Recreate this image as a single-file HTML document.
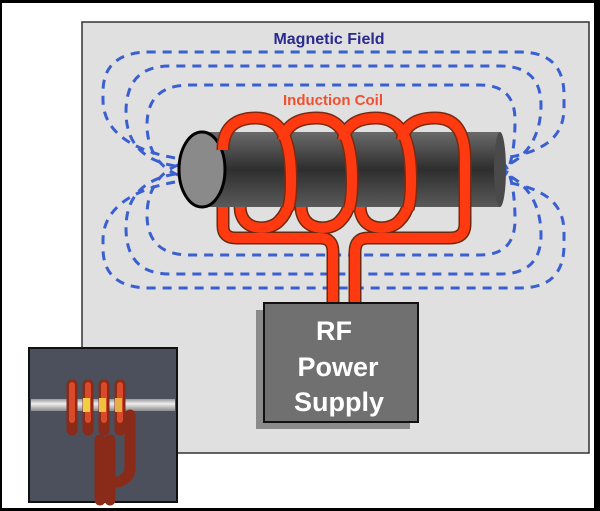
<!DOCTYPE html>
<html><head><style>
html,body{margin:0;padding:0;background:#000;}
svg{display:block;}
</style></head><body>
<svg width="600" height="511" viewBox="0 0 600 511" xmlns="http://www.w3.org/2000/svg">
<defs>
<linearGradient id="cyl" x1="0" y1="0" x2="0" y2="1">
<stop offset="0" stop-color="#6a6a6a"/><stop offset="0.5" stop-color="#2e2e2e"/><stop offset="1" stop-color="#5a5a5a"/>
</linearGradient>
<linearGradient id="rod" x1="0" y1="0" x2="0" y2="1">
<stop offset="0" stop-color="#9a9a9a"/><stop offset="0.4" stop-color="#eeeeee"/><stop offset="1" stop-color="#8a8a8a"/>
</linearGradient>
<g id="back" fill="none">
<path d="M291,180 C291,200 288,212 280,220 C272,230 252,231 244,220 C240,214 240,210 240,200"/>
<path d="M352,180 C352,200 349,212 341,220 C333,230 313,231 305,220 C301,214 301,210 301,200"/>
<path d="M411,180 C411,200 408,212 400,220 C392,230 372,231 364,220 C360,214 360,210 360,200"/>
<path d="M223,150 L223,226 Q223,238 236,238 L320,238 Q333,238 333,252 L333,303"/>
<path d="M465,150 L465,224 Q465,238 450,238 L368,238 Q355,238 355,252 L355,303"/>
</g>
<g id="front" fill="none">
<path d="M223,150 C223,128 235,118 256,118 C282,118 291,140 291,180 C291,195 290,203 288,209"/>
<path d="M283,140 C286,124 300,118 317,118 C343,118 352,140 352,180 C352,195 351,203 349,209"/>
<path d="M343,140 C346,124 360,118 376,118 C402,118 411,140 411,180 C411,195 410,203 408,209"/>
<path d="M402,140 C405,124 418,118 435,118 C458,118 465,135 465,160 L465,215"/>
</g>
</defs>
<rect x="2" y="3" width="592" height="505" fill="#fff"/>
<rect x="82" y="22" width="507" height="431" fill="#e0e0e0" stroke="#333" stroke-width="1.5"/>
<g fill="none" stroke="#3a5fd0" stroke-width="3" stroke-dasharray="9 7">
<g id="top">
<path d="M175,158 C130,150 103,130 103,100 L103,92 Q103,52 150,52 L520,52 Q564,52 564,95 L564,108 C564,140 540,152 505,158"/>
<path d="M175,166 C140,160 126,140 126,112 Q126,66 170,66 L500,66 Q541,66 541,105 C541,138 525,158 505,166"/>
<path d="M178,175 C160,168 147,150 147,125 Q147,85 190,85 L480,85 Q515,85 515,120 C515,150 510,168 505,175"/>
</g>
<use href="#top" transform="translate(0,340) scale(1,-1)"/>
</g>
<text x="329" y="44" font-family="Liberation Sans, sans-serif" font-weight="bold" font-size="16" fill="#2a2a90" text-anchor="middle">Magnetic Field</text>
<text x="333" y="105" font-family="Liberation Sans, sans-serif" font-weight="bold" font-size="15" fill="#f05030" text-anchor="middle">Induction Coil</text>
<use href="#back" stroke="#6a2a10" stroke-width="13" stroke-linecap="round"/>
<use href="#back" stroke="#ff3a10" stroke-width="10" stroke-linecap="round"/>
<rect x="202" y="132" width="298" height="75" fill="url(#cyl)"/>
<ellipse cx="500" cy="169.5" rx="6" ry="37.5" fill="#4a4a4a"/>
<ellipse cx="202" cy="169.5" rx="23" ry="37.5" fill="#8a8a8a" stroke="#000" stroke-width="3"/>
<use href="#front" stroke="#7a2a10" stroke-width="13" stroke-linecap="butt"/>
<use href="#front" stroke="#ff3a10" stroke-width="10" stroke-linecap="butt"/>
<rect x="256" y="310" width="154" height="119" fill="#8a8a8a"/>
<rect x="264" y="303" width="154" height="119" fill="#707070" stroke="#111" stroke-width="2"/>
<g font-family="Liberation Sans, sans-serif" font-weight="bold" font-size="27" fill="#fff" text-anchor="middle">
<text x="334" y="340">RF</text>
<text x="338" y="376">Power</text>
<text x="339" y="411">Supply</text>
</g>
<rect x="29" y="348" width="148" height="154" fill="#4c505c" stroke="#111" stroke-width="2"/>
<rect x="31" y="399" width="144" height="12" fill="url(#rod)"/>
<g fill="none" stroke="#8a2a18" stroke-width="11" stroke-linecap="round">
<path d="M72,385 L72,430"/><path d="M88,385 L88,430"/><path d="M104,385 L104,430"/><path d="M120,385 L120,430"/>
<path d="M100,440 L100,500"/><path d="M110,440 L110,500"/><path d="M130,415 L130,468 Q130,478 118,482"/>
</g>
<g fill="none" stroke="#d84a2a" stroke-width="6" stroke-linecap="round">
<path d="M72,385 L72,420"/><path d="M88,385 L88,420"/><path d="M104,385 L104,420"/><path d="M120,385 L120,420"/>
</g>
<rect x="83" y="398" width="7" height="14" fill="#f0d040"/>
<rect x="99" y="398" width="7" height="14" fill="#f0c040"/>
<rect x="115" y="398" width="7" height="14" fill="#e8b040"/>
</svg>
</body></html>
